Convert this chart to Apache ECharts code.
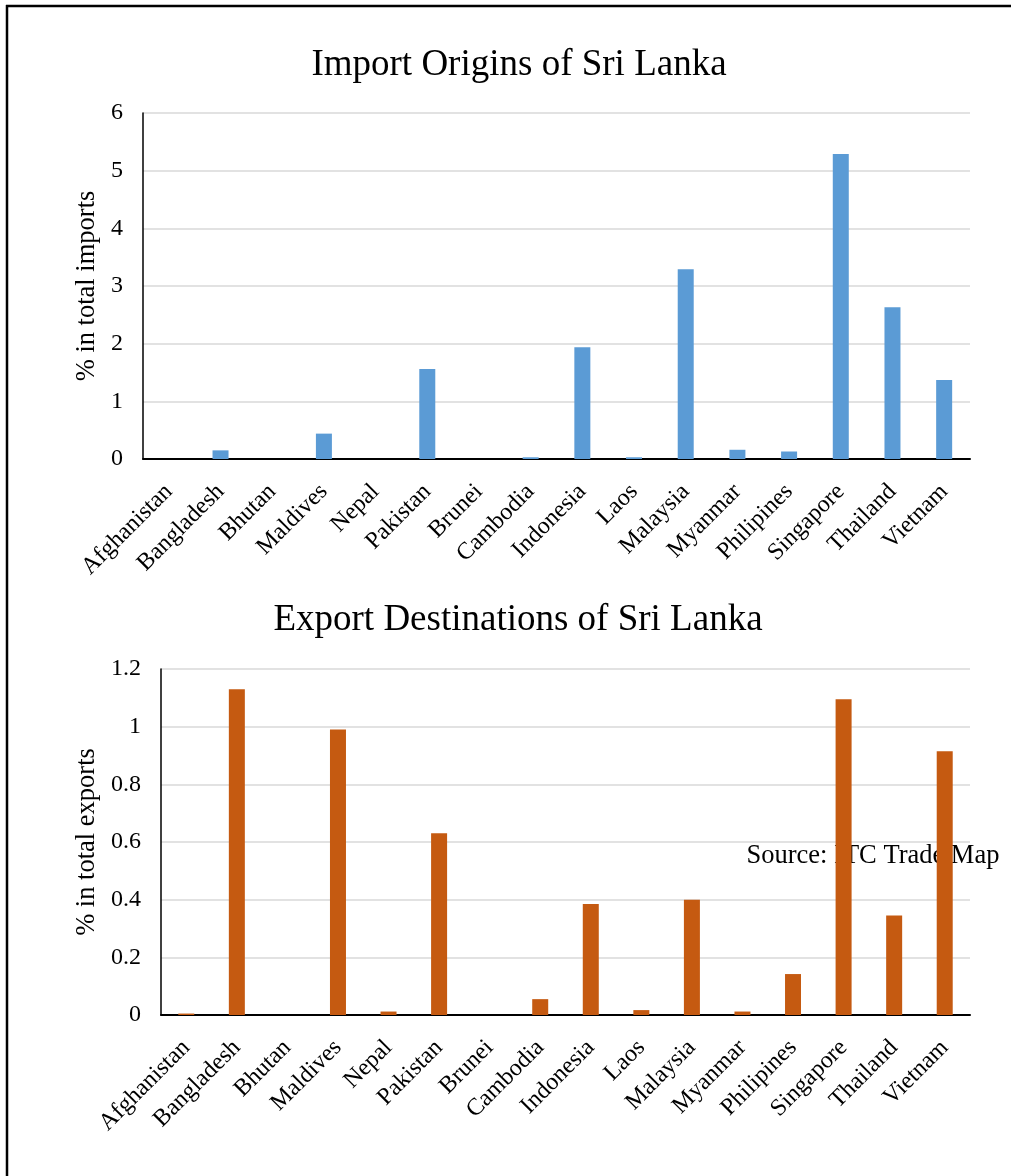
<!DOCTYPE html>
<html>
<head>
<meta charset="utf-8">
<script src="https://cdn.jsdelivr.net/npm/echarts@6/dist/echarts.min.js"></script>
<style>
html,body{margin:0;padding:0;background:#fff;}
#chart{width:1011px;height:1176px;}
</style>
</head>
<body>
<div id="chart"></div>
<script>
const countries = ['Afghanistan','Bangladesh','Bhutan','Maldives','Nepal','Pakistan','Brunei','Cambodia','Indonesia','Laos','Malaysia','Myanmar','Philipines','Singapore','Thailand','Vietnam'];
const importShares = [0, 0.15, 0, 0.44, 0, 1.56, 0, 0.03, 1.94, 0.03, 3.29, 0.16, 0.13, 5.29, 2.63, 1.37];
const exportShares = [0.005, 1.13, 0, 0.99, 0.012, 0.63, 0, 0.055, 0.385, 0.017, 0.40, 0.012, 0.142, 1.095, 0.345, 0.915];
const importTitle = 'Import Origins of Sri Lanka';
const exportTitle = 'Export Destinations of Sri Lanka';
const importAxisName = '% in total imports';
const exportAxisName = '% in total exports';
const sourceNote = 'Source: ITC Trade Map';

const FONT = "'Liberation Serif','Times New Roman',serif";
const chart = echarts.init(document.getElementById('chart'), null, {renderer:'canvas', width:1011, height:1176});

function xAxisCfg(gridIndex){
  return {
    type:'category', gridIndex, data:countries,
    axisLine:{show:true, lineStyle:{color:'#000', width:2}},
    axisTick:{show:false},
    axisLabel:{rotate:45, interval:0, margin:29, color:'#000', fontFamily:FONT, fontSize:24},
    splitLine:{show:false}
  };
}
function yAxisCfg(gridIndex, max, interval, name, gap){
  return {
    type:'value', gridIndex, min:0, max, interval,
    name, nameLocation:'middle', nameGap:gap, nameRotate:90,
    nameTextStyle:{color:'#000', fontFamily:FONT, fontSize:26.5},
    axisLine:{show:true, lineStyle:{color:'#000', width:1.5}},
    axisTick:{show:false},
    axisLabel:{margin:20, color:'#000', fontFamily:FONT, fontSize:24},
    splitLine:{show:true, lineStyle:{color:'#d9d9d9', width:1.5}}
  };
}

chart.setOption({
  animation:false,
  backgroundColor:'#fff',
  title:[
    {text:importTitle, left:514, top:42, textAlign:'center', textStyle:{color:'#000', fontFamily:FONT, fontSize:37, fontWeight:'normal'}},
    {text:exportTitle, left:513, top:597, textAlign:'center', textStyle:{color:'#000', fontFamily:FONT, fontSize:37, fontWeight:'normal'}}
  ],
  grid:[
    {left:143, right:41, top:113, height:346, containLabel:false},
    {left:161, right:41, top:669, height:346, containLabel:false}
  ],
  xAxis:[xAxisCfg(0), xAxisCfg(1)],
  yAxis:[
    yAxisCfg(0, 6, 1, importAxisName, 42),
    yAxisCfg(1, 1.2, 0.2, exportAxisName, 60)
  ],
  graphic:[
    {type:'line', shape:{x1:6, y1:6, x2:1011, y2:6}, style:{stroke:'#000', lineWidth:2.5}, z:10},
    {type:'line', shape:{x1:7, y1:5, x2:7, y2:1176}, style:{stroke:'#000', lineWidth:2.5}, z:10},
    {type:'text', x:746.5, y:843, z:1, style:{text:sourceNote, fill:'#000', font:"26.5px " + FONT, textAlign:'left', verticalAlign:'top'}}
  ],
  series:[
    {type:'bar', xAxisIndex:0, yAxisIndex:0, data:importShares, barWidth:16, itemStyle:{color:'#5b9bd5'}, z:3},
    {type:'bar', xAxisIndex:1, yAxisIndex:1, data:exportShares, barWidth:16, itemStyle:{color:'#c55a11'}, z:3}
  ]
});
</script>
</body>
</html>
